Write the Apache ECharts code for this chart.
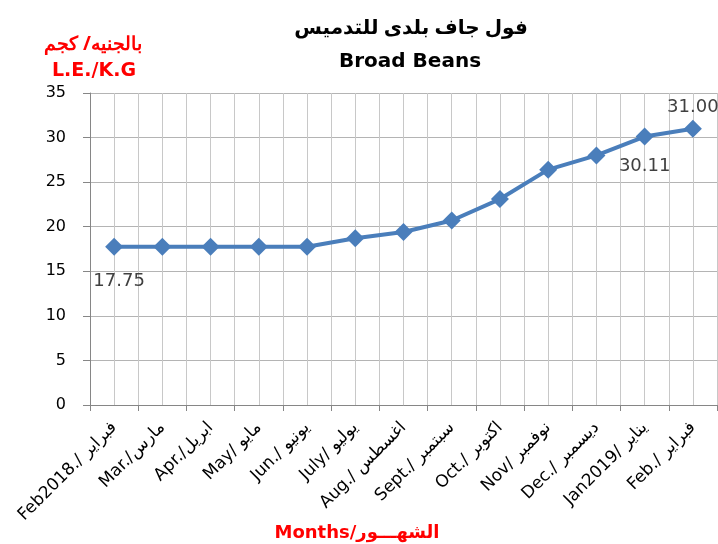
<!DOCTYPE html>
<html>
<head>
<meta charset="utf-8">
<script src="https://cdn.jsdelivr.net/npm/echarts@6/dist/echarts.min.js"></script>
<style>
  html, body { margin: 0; padding: 0; background: #fff; }
  #main { width: 718px; height: 544px; }
</style>
</head>
<body>
<div id="main"></div>
<script>
// months (English / Arabic)
var months = ['Feb2018./ فبراير', 'Mar./مارس', 'Apr./ابريل', 'May/ مايو', 'Jun./ يونيو', 'July/ يوليو',
    'Aug./ اغسطس', 'Sept./ سبتمبر', 'Oct./ اكتوبر', 'Nov/ نوفمبر', 'Dec./ ديسمبر', 'Jan2019/ يناير', 'Feb./ فبراير'];
// price, L.E./K.G
var prices = [17.75, 17.75, 17.75, 17.75, 17.75, 18.7, 19.4, 20.7, 23.1, 26.4, 28.0, 30.11, 31.00];
// which points carry a value label, and where
var labelPos = { 0: 'below', 11: 'below', 12: 'above' };

var yTicks = [0, 5, 10, 15, 20, 25, 30, 35];

var chart = echarts.init(document.getElementById('main'));

var fontFam = '"DejaVu Sans", sans-serif';

var seriesData = prices.map(function (v, i) {
    var item = { value: v };
    if (labelPos[i]) {
        item.label = {
            show: true,
            position: labelPos[i] === 'above' ? 'top' : 'bottom',
            distance: labelPos[i] === 'above' ? 3 : (i === 0 ? 17 : 12),
            offset: i === 0 ? [5, 0] : [0, 0],
            formatter: function (p) { return p.value.toFixed(2); },
            color: '#404040',
            fontSize: 18,
            fontFamily: fontFam
        };
    }
    return item;
});

chart.setOption({
    backgroundColor: '#fff',
    animation: false,
    title: [{
        text: 'فول جاف بلدى للتدميس',
        left: 406, top: 13, textAlign: 'center',
        textStyle: { fontSize: 20, fontWeight: 'bold', color: '#000', fontFamily: '"Noto Sans", "DejaVu Sans", sans-serif' }
    }, {
        text: 'Broad Beans',
        left: 405, top: 47, textAlign: 'center',
        textStyle: { fontSize: 20, fontWeight: 'bold', color: '#000', fontFamily: fontFam }
    }, {
        text: 'بالجنيه/ كجم',
        left: 88, top: 30, textAlign: 'center',
        textStyle: { fontSize: 19, fontWeight: 'bold', color: '#ff0000', fontFamily: '"Noto Sans", sans-serif' }
    }, {
        text: 'L.E./K.G',
        left: 89, top: 57, textAlign: 'center',
        textStyle: { fontSize: 19, fontWeight: 'bold', color: '#ff0000', fontFamily: fontFam }
    }, {
        text: 'Months/الشهـــور',
        left: 352, top: 519, textAlign: 'center',
        textStyle: { fontSize: 18, fontWeight: 'bold', color: '#ff0000', fontFamily: fontFam }
    }],
    grid: { left: 90, right: 1, top: 93, bottom: 139, containLabel: false },
    xAxis: [{
        type: 'category',
        data: months,
        boundaryGap: true,
        axisLine: { lineStyle: { color: '#868686', width: 1 } },
        axisTick: { show: true, length: 6, lineStyle: { color: '#868686' } },
        axisLabel: {
            rotate: 45, interval: 0, color: '#000', fontSize: 17, fontFamily: fontFam, margin: 20
        },
        splitLine: { show: false }
    }, {
        // half-category vertical grid lines
        type: 'value',
        min: 0, max: months.length * 2, interval: 1,
        position: 'bottom',
        axisLine: { show: false },
        axisTick: { show: false },
        axisLabel: { show: false },
        splitLine: { show: true, lineStyle: { color: '#c8c8c8', width: 1 } }
    }],
    yAxis: {
        type: 'value',
        min: yTicks[0], max: yTicks[yTicks.length - 1], interval: 5,
        axisLine: { show: true, lineStyle: { color: '#868686' } },
        axisTick: { show: true, length: 7, lineStyle: { color: '#868686' } },
        axisLabel: { color: '#000', fontSize: 16, fontFamily: fontFam, margin: 24 },
        splitLine: { show: true, lineStyle: { color: '#b4b4b4', width: 1 } }
    },
    series: [{
        type: 'line',
        xAxisIndex: 0,
        data: seriesData,
        symbol: 'diamond',
        symbolSize: 18,
        itemStyle: { color: '#4a7ebb' },
        lineStyle: { color: '#4a7ebb', width: 4 },
        label: { show: false }
    }]
});
</script>
</body>
</html>
